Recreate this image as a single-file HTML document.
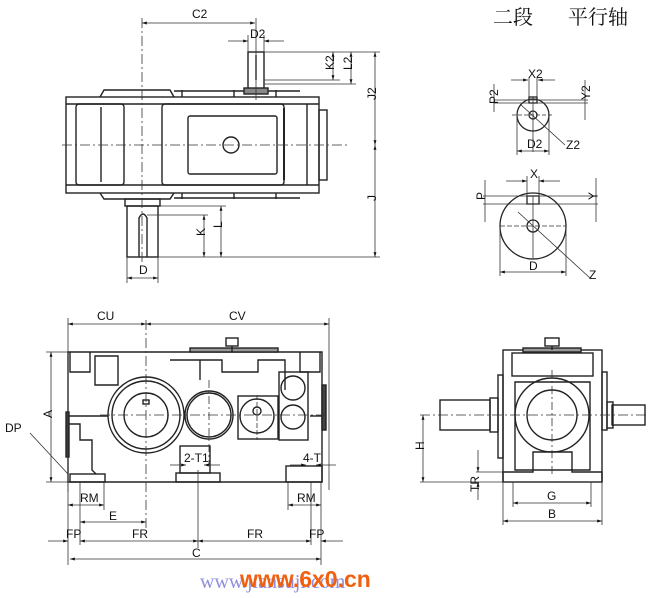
<!DOCTYPE html>
<html><head><meta charset="utf-8"><style>
html,body{margin:0;padding:0;background:#fff;width:650px;height:598px;overflow:hidden}
svg{display:block}
text{font-family:"Liberation Sans",sans-serif;font-size:12px;fill:#111}
</style></head><body>
<svg width="650" height="598" viewBox="0 0 650 598" xmlns="http://www.w3.org/2000/svg">
<defs>
<marker id="a" viewBox="0 0 10 10" refX="10" refY="5" markerWidth="6" markerHeight="6" orient="auto-start-reverse"><path d="M0,2 L10,5 L0,8z" fill="#111"/></marker>
</defs>
<g stroke="#222" stroke-width="1.4" fill="none">
<path d="M100,97 L104,90 L170,90 L174,97"/>
<path d="M100,193 L104,199 L170,199 L174,193"/>
<rect x="66" y="97" width="253" height="96"/>
<line x1="66" y1="104" x2="319" y2="104"/><line x1="66" y1="185" x2="319" y2="185"/>
<rect x="76" y="104" width="48" height="81" rx="3"/>
<line x1="101" y1="107" x2="101" y2="182"/>
<rect x="162" y="104" width="122" height="81" rx="3"/>
<rect x="188" y="116" width="89" height="58" rx="2"/>
<line x1="284" y1="108" x2="284" y2="180" stroke-width="2"/>
<line x1="307" y1="104" x2="307" y2="185"/>
<rect x="319" y="110" width="8" height="70"/>
<line x1="182" y1="90" x2="182" y2="97"/><line x1="234" y1="90" x2="234" y2="97"/><line x1="276" y1="90" x2="276" y2="97"/>
<line x1="182" y1="193" x2="182" y2="199"/><line x1="234" y1="193" x2="234" y2="199"/><line x1="276" y1="193" x2="276" y2="199"/>
<path d="M174,91 L300,91"/><path d="M174,198 L300,198"/>
<circle cx="231" cy="145" r="8"/>
<rect x="248" y="52" width="16" height="38"/>
<rect x="244" y="88" width="24" height="6" fill="#888"/>
<line x1="256" y1="55" x2="256" y2="80"/>
<rect x="125" y="199" width="35" height="7"/>
<rect x="127" y="206" width="31" height="51"/>
<path d="M139,257 L139,218 Q143,210 147,218 L147,257"/>
</g>
<g stroke="#333" stroke-width="0.8" fill="none">
<line x1="62" y1="145" x2="347" y2="145" stroke-dasharray="10,3,2,3"/>
<line x1="142" y1="18" x2="142" y2="262" stroke-dasharray="10,3,2,3"/>
<line x1="256" y1="18" x2="256" y2="100"/>
<line x1="142" y1="23" x2="255" y2="23" marker-start="url(#a)" marker-end="url(#a)"/>
<line x1="228" y1="41" x2="248" y2="41" marker-end="url(#a)"/>
<line x1="284" y1="41" x2="264" y2="41" marker-end="url(#a)"/>
<line x1="248" y1="35" x2="248" y2="52"/><line x1="264" y1="35" x2="264" y2="52"/>
<line x1="264" y1="52" x2="380" y2="52"/>
<line x1="264" y1="80" x2="340" y2="80"/><line x1="264" y1="84" x2="356" y2="84"/>
<line x1="333" y1="52" x2="333" y2="80" marker-start="url(#a)" marker-end="url(#a)"/>
<line x1="351" y1="52" x2="351" y2="84" marker-start="url(#a)" marker-end="url(#a)"/>
<line x1="375" y1="52" x2="375" y2="145" marker-start="url(#a)" marker-end="url(#a)"/>
<line x1="375" y1="145" x2="375" y2="257" marker-start="url(#a)" marker-end="url(#a)"/>
<line x1="158" y1="257" x2="380" y2="257"/>
<line x1="160" y1="206" x2="226" y2="206"/><line x1="147" y1="215" x2="208" y2="215"/>
<line x1="204" y1="215" x2="204" y2="257" marker-start="url(#a)" marker-end="url(#a)"/>
<line x1="221" y1="206" x2="221" y2="257" marker-start="url(#a)" marker-end="url(#a)"/>
<line x1="127" y1="257" x2="127" y2="283"/><line x1="158" y1="257" x2="158" y2="283"/>
<line x1="127" y1="278" x2="158" y2="278" marker-start="url(#a)" marker-end="url(#a)"/>
</g>
<text x="192" y="18">C2</text>
<text x="250" y="38">D2</text>
<text x="330" y="74" transform="rotate(-90 330 70)">K2</text>
<text x="348" y="74" transform="rotate(-90 348 70)">L2</text>
<text x="372" y="104" transform="rotate(-90 372 100)">J2</text>
<text x="372" y="205" transform="rotate(-90 372 201)">J</text>
<text x="201" y="240" transform="rotate(-90 201 236)">K</text>
<text x="218" y="232" transform="rotate(-90 218 228)">L</text>
<text x="139" y="274">D</text>

<text x="493" y="24" style="font-family:'Noto Serif CJK SC','Liberation Serif',serif;font-size:20px">二段</text>
<text x="568" y="24" style="font-family:'Noto Serif CJK SC','Liberation Serif',serif;font-size:20px">平行轴</text>

<g stroke="#222" stroke-width="1.3" fill="none">
<circle cx="533" cy="115" r="16"/><circle cx="533" cy="115" r="4"/>
<rect x="529" y="97" width="8" height="6"/>
<circle cx="533" cy="226" r="33"/><circle cx="533" cy="226" r="6"/>
<rect x="527" y="196" width="12" height="8"/>
</g>
<g stroke="#333" stroke-width="0.8" fill="none">
<line x1="533" y1="97" x2="533" y2="152"/><line x1="512" y1="115" x2="554" y2="115" stroke-dasharray="4,2"/>
<line x1="511" y1="80" x2="528" y2="80" marker-end="url(#a)"/><line x1="555" y1="80" x2="538" y2="80" marker-end="url(#a)"/>
<line x1="529" y1="78" x2="529" y2="97"/><line x1="537" y1="78" x2="537" y2="97"/>
<line x1="494" y1="100" x2="588" y2="100"/><line x1="494" y1="103" x2="588" y2="103"/>
<line x1="494" y1="84" x2="494" y2="112"/><line x1="585" y1="80" x2="585" y2="120"/>
<line x1="517" y1="115" x2="517" y2="155"/><line x1="549" y1="115" x2="549" y2="155"/>
<line x1="517" y1="151" x2="549" y2="151" marker-start="url(#a)" marker-end="url(#a)"/>
<line x1="520" y1="104" x2="565" y2="145"/>
<line x1="506" y1="181" x2="527" y2="181" marker-end="url(#a)"/><line x1="560" y1="181" x2="539" y2="181" marker-end="url(#a)"/>
<line x1="527" y1="176" x2="527" y2="196"/><line x1="539" y1="176" x2="539" y2="196"/>
<line x1="483" y1="196" x2="598" y2="196"/><line x1="483" y1="204" x2="598" y2="204"/>
<line x1="485" y1="180" x2="485" y2="222"/><line x1="596" y1="178" x2="596" y2="222"/>
<line x1="500" y1="226" x2="566" y2="226" stroke-dasharray="5,2"/><line x1="533" y1="196" x2="533" y2="259"/>
<line x1="500" y1="226" x2="500" y2="276"/><line x1="566" y1="226" x2="566" y2="276"/>
<line x1="500" y1="272" x2="566" y2="272" marker-start="url(#a)" marker-end="url(#a)"/>
<line x1="518" y1="212" x2="590" y2="278"/>
</g>
<text x="528" y="78" font-size="10">X2</text>
<text x="490" y="112" transform="rotate(-90 490 104)" font-size="10">P2</text>
<text x="582" y="108" transform="rotate(-90 582 100)" font-size="10">Y2</text>
<text x="527" y="148" font-size="10">D2</text>
<text x="566" y="149" font-size="11">Z2</text>
<text x="530" y="178" font-size="10">X</text>
<text x="481" y="204" transform="rotate(-90 481 200)" font-size="10">P</text>
<text x="593" y="204" transform="rotate(-90 593 200)" font-size="10">Y</text>
<text x="529" y="270" font-size="10">D</text>
<text x="589" y="279" font-size="11">Z</text>

<g stroke="#222" stroke-width="1.4" fill="none">
<path d="M68,352 L322,352 L322,482 L68,482 Z"/>
<rect x="190" y="348" width="88" height="4" fill="#999"/>
<rect x="226" y="338" width="12" height="8"/><line x1="232" y1="346" x2="232" y2="352"/>
<path d="M70,352 L70,372 L90,372 L90,352"/><path d="M300,352 L300,372 L320,372 L320,352"/>
<path d="M95,356 L118,356 L118,385 L95,385 Z"/>
<path d="M170,360 L200,360 L200,380 M200,360 L222,360 L222,372 L258,372 L258,360 L285,360 L285,390"/>
<circle cx="146" cy="415" r="38"/><circle cx="146" cy="415" r="34"/><circle cx="146" cy="415" r="22"/>
<rect x="143" y="400" width="6" height="4"/>
<circle cx="209" cy="415" r="24"/><circle cx="209" cy="415" r="22"/>
<rect x="238" y="396" width="40" height="43"/>
<circle cx="257" cy="416" r="17"/><circle cx="257" cy="411" r="4"/>
<rect x="279" y="372" width="29" height="68"/>
<circle cx="293" cy="388" r="12"/><circle cx="293" cy="417" r="12"/>
<line x1="68" y1="416" x2="108" y2="416"/><line x1="310" y1="416" x2="322" y2="416"/>
<path d="M68,424 L80,424 L80,440 L92,440 L92,470 L96,474"/>
<rect x="66" y="412" width="3" height="45" fill="#444"/>
<rect x="322" y="385" width="4" height="45" fill="#444"/>
<rect x="70" y="474" width="35" height="8"/>
<rect x="180" y="446" width="30" height="27"/><rect x="176" y="473" width="44" height="9"/>
<rect x="286" y="466" width="36" height="16"/>
</g>
<g stroke="#333" stroke-width="0.8" fill="none">
<line x1="146" y1="320" x2="146" y2="530" stroke-dasharray="10,3,2,3"/>
<line x1="209" y1="380" x2="209" y2="465" stroke-dasharray="8,3,2,3"/>
<line x1="257" y1="395" x2="257" y2="440" stroke-dasharray="5,2"/>
<line x1="100" y1="415" x2="325" y2="415" stroke-dasharray="10,3,2,3"/>
<line x1="198" y1="470" x2="198" y2="548"/>
<line x1="68" y1="318" x2="68" y2="492"/><line x1="329" y1="318" x2="329" y2="490"/>
<line x1="68" y1="324" x2="146" y2="324" marker-start="url(#a)" marker-end="url(#a)"/>
<line x1="146" y1="324" x2="329" y2="324" marker-start="url(#a)" marker-end="url(#a)"/>
<line x1="46" y1="352" x2="68" y2="352"/><line x1="46" y1="482" x2="70" y2="482"/>
<line x1="51" y1="352" x2="51" y2="482" marker-start="url(#a)" marker-end="url(#a)"/>
<line x1="30" y1="433" x2="68" y2="474"/>
<line x1="68" y1="482" x2="68" y2="565"/><line x1="321" y1="482" x2="321" y2="565"/>
<line x1="80" y1="482" x2="80" y2="545"/><line x1="104" y1="482" x2="104" y2="510"/>
<line x1="311" y1="482" x2="311" y2="545"/><line x1="288" y1="482" x2="288" y2="510"/>
<line x1="68" y1="505" x2="104" y2="505" marker-start="url(#a)" marker-end="url(#a)"/>
<line x1="288" y1="505" x2="321" y2="505" marker-start="url(#a)" marker-end="url(#a)"/>
<line x1="80" y1="522" x2="146" y2="522" marker-start="url(#a)" marker-end="url(#a)"/>
<line x1="48" y1="541" x2="68" y2="541" marker-end="url(#a)"/>
<line x1="80" y1="541" x2="198" y2="541" marker-start="url(#a)" marker-end="url(#a)"/>
<line x1="198" y1="541" x2="311" y2="541" marker-start="url(#a)" marker-end="url(#a)"/>
<line x1="343" y1="541" x2="321" y2="541" marker-end="url(#a)"/>
<line x1="70" y1="559" x2="321" y2="559" marker-start="url(#a)" marker-end="url(#a)"/>
<line x1="170" y1="465" x2="186" y2="465" marker-end="url(#a)"/><line x1="220" y1="465" x2="204" y2="465" marker-end="url(#a)"/>
<line x1="290" y1="465" x2="306" y2="465" marker-end="url(#a)"/><line x1="336" y1="465" x2="316" y2="465" marker-end="url(#a)"/>
</g>
<text x="97" y="320">CU</text>
<text x="229" y="320">CV</text>
<text x="48" y="422" transform="rotate(-90 48 418)">A</text>
<text x="5" y="432">DP</text>
<text x="184" y="462">2-T1</text>
<text x="303" y="462">4-T</text>
<text x="80" y="502">RM</text>
<text x="297" y="502">RM</text>
<text x="109" y="520">E</text>
<text x="66" y="538">FP</text>
<text x="132" y="538">FR</text>
<text x="247" y="538">FR</text>
<text x="309" y="538">FP</text>
<text x="192" y="557">C</text>

<g stroke="#222" stroke-width="1.4" fill="none">
<rect x="503" y="350" width="99" height="132"/>
<rect x="512" y="353" width="81" height="23"/>
<rect x="523" y="348" width="58" height="4" fill="#999"/>
<rect x="545" y="338" width="14" height="8"/><line x1="552" y1="346" x2="552" y2="350"/>
<rect x="498" y="375" width="5" height="83"/><rect x="602" y="372" width="5" height="58"/>
<path d="M515,382 L590,382 L590,470 L515,470 Z"/>
<circle cx="552" cy="415" r="37"/><circle cx="552" cy="415" r="25"/>
<rect x="440" y="400" width="50" height="30"/><rect x="490" y="398" width="8" height="34"/>
<rect x="612" y="405" width="33" height="20"/><rect x="607" y="402" width="6" height="26"/>
<path d="M503,482 L503,472 L533,472 L533,452 L572,452 L572,472 L602,472 L602,482"/>
</g>
<g stroke="#333" stroke-width="0.8" fill="none">
<line x1="420" y1="415" x2="648" y2="415" stroke-dasharray="10,3,2,3"/>
<line x1="552" y1="370" x2="552" y2="475" stroke-dasharray="8,3,2,3"/>
<line x1="420" y1="482" x2="503" y2="482"/><line x1="476" y1="472" x2="503" y2="472"/>
<line x1="423" y1="415" x2="423" y2="482" marker-start="url(#a)" marker-end="url(#a)"/>
<line x1="478" y1="450" x2="478" y2="472" marker-end="url(#a)"/><line x1="478" y1="500" x2="478" y2="482" marker-end="url(#a)"/>
<line x1="503" y1="482" x2="503" y2="525"/><line x1="602" y1="482" x2="602" y2="525"/>
<line x1="513" y1="482" x2="513" y2="507"/><line x1="591" y1="482" x2="591" y2="507"/>
<line x1="513" y1="503" x2="591" y2="503" marker-start="url(#a)" marker-end="url(#a)"/>
<line x1="503" y1="521" x2="602" y2="521" marker-start="url(#a)" marker-end="url(#a)"/>
</g>
<text x="420" y="454" transform="rotate(-90 420 450)">H</text>
<text x="475" y="496" transform="rotate(-90 475 492)">TR</text>
<text x="547" y="500">G</text>
<text x="548" y="518">B</text>

<text x="200" y="588" style="font-family:'Liberation Serif',serif;font-size:20px;fill:#8f8fdc">www.jiansuji.com</text>
<text x="240" y="587" style="font-family:'Liberation Sans',sans-serif;font-size:23px;font-weight:bold;fill:#f06010">www.6x0.cn</text>
</svg>
</body></html>
